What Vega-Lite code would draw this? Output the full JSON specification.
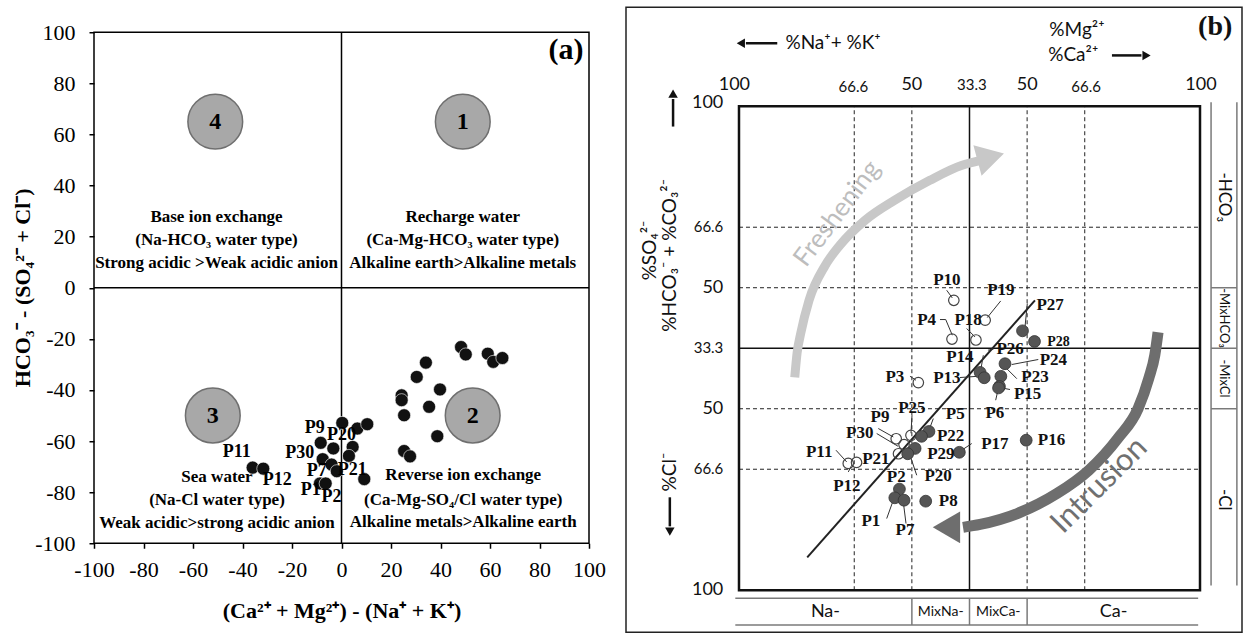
{
  "$schema": "https://vega.github.io/schema/vega-lite/v6.json",
  "padding": {"left": 11, "top": 6.25, "right": 0, "bottom": 0},
  "config": {"view": {"stroke": null}},
  "spacing": 37,
  "bounds": "flush",
  "hconcat": [
    {
      "width": 495,
      "height": 536,
      "encoding": {
        "x": {"field": "x", "type": "quantitative", "scale": {"domain": [-100, 100], "nice": false, "zero": false},
          "axis": {"values": [-100, -80, -60, -40, -20, 0, 20, 40, 60, 80, 100], "title": "(Ca²⁺ + Mg²⁺) - (Na⁺ + K⁺)", "grid": false, "domain": false,
            "tickColor": "black", "tickSize": 5, "tickWidth": 1.5, "labelFont": "Liberation Serif", "labelFontSize": 22, "labelColor": "black",
            "labelPadding": 11, "labelFlush": false, "labelOverlap": false, "labelExpr": "replace(datum.label, '\u2212', '-')",
            "titleFont": "Liberation Serif", "titleFontSize": 22, "titleFontWeight": "bold", "titleColor": "black", "titleY": 57, "titleBaseline": "top"}},
        "y": {"field": "y", "type": "quantitative", "scale": {"domain": [-100, 109.8], "nice": false, "zero": false},
          "axis": {"values": [-100, -80, -60, -40, -20, 0, 20, 40, 60, 80, 100], "title": "HCO₃⁻ - (SO₄²⁻ + Cl⁻)", "grid": false, "domain": false,
            "tickColor": "black", "tickSize": 5, "tickWidth": 1.5, "labelFont": "Liberation Serif", "labelFontSize": 22, "labelColor": "black",
            "labelPadding": 14, "labelFlush": false, "labelOverlap": false, "labelExpr": "replace(datum.label, '\u2212', '-')",
            "titleFont": "Liberation Serif", "titleFontSize": 22, "titleFontWeight": "bold", "titleColor": "black",
            "titleX": -72, "titleY": 280, "titleBaseline": "middle", "titleAngle": -90}}
      },
      "layer": [
        {"data": {"values": [{"x": -100, "y": -100, "x2": 100, "y2": 100}]},
          "mark": {"type": "rect", "filled": false, "stroke": "black", "strokeWidth": 1.5},
          "encoding": {"x2": {"field": "x2"}, "y2": {"field": "y2"}}},
        {"data": {"values": [{"x": 0, "y": -100, "x2": 0, "y2": 100}, {"x": -100, "y": 0, "x2": 100, "y2": 0}]},
          "mark": {"type": "rule", "color": "black", "strokeWidth": 1.5},
          "encoding": {"x2": {"field": "x2"}, "y2": {"field": "y2"}}},
        {"data": {"values": [{"x": -51, "y": 65, "n": "4"}, {"x": 49, "y": 65, "n": "1"}, {"x": -52, "y": -50, "n": "3"}, {"x": 53, "y": -50, "n": "2"}]},
          "mark": {"type": "point", "shape": "circle", "filled": true, "size": 3000, "fill": "#a8a8a8", "stroke": "#6f6f6f", "strokeWidth": 1.5, "opacity": 1}},
        {"data": {"values": [{"x": -51, "y": 65, "n": "4"}, {"x": 49, "y": 65, "n": "1"}, {"x": -52, "y": -50, "n": "3"}, {"x": 53, "y": -50, "n": "2"}]},
          "mark": {"type": "text", "font": "Liberation Serif", "fontWeight": "bold", "fontSize": 24, "color": "black", "baseline": "middle", "align": "center"},
          "encoding": {"text": {"field": "n"}}},
        {"data": {"values": [
            {"x": -50.5, "y": 27.7, "t": "Base ion exchange"},
            {"x": -50.5, "y": 18.6, "t": "(Na-HCO₃ water type)"},
            {"x": -50.5, "y": 9.5, "t": "Strong acidic >Weak acidic anion"},
            {"x": 49, "y": 27.7, "t": "Recharge water"},
            {"x": 49, "y": 18.6, "t": "(Ca-Mg-HCO₃ water type)"},
            {"x": 49, "y": 9.5, "t": "Alkaline earth>Alkaline metals"},
            {"x": -50.3, "y": -74, "t": "Sea water"},
            {"x": -50.3, "y": -83.2, "t": "(Na-Cl water type)"},
            {"x": -50.3, "y": -92, "t": "Weak acidic>strong acidic anion"},
            {"x": 49.2, "y": -73.4, "t": "Reverse ion exchange"},
            {"x": 49.2, "y": -82.9, "t": "(Ca-Mg-SO₄/Cl water type)"},
            {"x": 49.2, "y": -91.7, "t": "Alkaline metals>Alkaline earth"}
          ]},
          "mark": {"type": "text", "font": "Liberation Serif", "fontWeight": "bold", "fontSize": 17, "color": "black", "baseline": "middle", "align": "center"},
          "encoding": {"text": {"field": "t"}}},
        {"data": {"values": [
            {"x": 0.3, "y": -52.9}, {"x": 6.4, "y": -55.1}, {"x": 10.4, "y": -53.4}, {"x": -8.4, "y": -60.7}, {"x": -3.3, "y": -62.9},
            {"x": 4.5, "y": -62.3}, {"x": 3.0, "y": -65.8}, {"x": -7.6, "y": -67.1}, {"x": -4.0, "y": -69.2}, {"x": -1.9, "y": -71.8},
            {"x": 9.2, "y": -74.9}, {"x": -8.7, "y": -76.6}, {"x": -6.4, "y": -76.6}, {"x": -35.9, "y": -70.4}, {"x": -31.6, "y": -70.8},
            {"x": 48.3, "y": -23.2}, {"x": 50.2, "y": -26.1}, {"x": 59.1, "y": -25.8}, {"x": 61.3, "y": -29.0}, {"x": 65.0, "y": -27.5},
            {"x": 34.1, "y": -29.3}, {"x": 30.4, "y": -34.9}, {"x": 39.8, "y": -39.8}, {"x": 24.3, "y": -42.1}, {"x": 24.3, "y": -44.0},
            {"x": 35.4, "y": -46.6}, {"x": 25.3, "y": -49.9}, {"x": 38.7, "y": -58.1}, {"x": 25.3, "y": -63.9}, {"x": 27.7, "y": -66.0}
          ]},
          "mark": {"type": "point", "shape": "circle", "filled": true, "size": 170, "fill": "#111111", "stroke": "#ffffff", "strokeWidth": 0.6, "opacity": 1}},
        {"data": {"values": [
            {"x": -10.8, "y": -54.7, "t": "P9"}, {"x": 0, "y": -57.7, "t": "P20"}, {"x": -42.3, "y": -64.3, "t": "P11"},
            {"x": -16.9, "y": -64.5, "t": "P30"}, {"x": -10.0, "y": -71.7, "t": "P7"}, {"x": 4.3, "y": -71.4, "t": "P21"},
            {"x": -26.0, "y": -75.4, "t": "P12"}, {"x": -12.4, "y": -79.0, "t": "P1"}, {"x": -4.0, "y": -81.9, "t": "P2"}
          ]},
          "mark": {"type": "text", "font": "Liberation Serif", "fontWeight": "bold", "fontSize": 18, "color": "black", "baseline": "middle", "align": "center"},
          "encoding": {"text": {"field": "t"}}},
        {"data": {"values": [{"x": 90.7, "y": 93, "t": "(a)"}]},
          "mark": {"type": "text", "font": "Liberation Serif", "fontWeight": "bold", "fontSize": 30, "color": "black", "baseline": "middle", "align": "center"},
          "encoding": {"text": {"field": "t"}}}
      ]
    },
    {
      "width": 616,
      "height": 625,
      "encoding": {
        "x": {"field": "x", "type": "quantitative", "scale": {"domain": [-24.51, 109.11], "nice": false, "zero": false}, "axis": null},
        "y": {"field": "y", "type": "quantitative", "scale": {"domain": [-8.68, 120.45], "nice": false, "zero": false}, "axis": null}
      },
      "layer": [
        {"data": {"values": [{"x": -24.51, "y": -8.68, "x2": 109.11, "y2": 120.45}]},
          "mark": {"type": "rect", "filled": false, "stroke": "#222222", "strokeWidth": 1.5},
          "encoding": {"x2": {"field": "x2"}, "y2": {"field": "y2"}}},
        {"data": {"values": [
            {"x": 25, "y": 0, "x2": 25, "y2": 100}, {"x": 37.5, "y": 0, "x2": 37.5, "y2": 100},
            {"x": 62.5, "y": 0, "x2": 62.5, "y2": 100}, {"x": 75, "y": 0, "x2": 75, "y2": 100},
            {"x": 0, "y": 25, "x2": 100, "y2": 25}, {"x": 0, "y": 37.5, "x2": 100, "y2": 37.5},
            {"x": 0, "y": 62.5, "x2": 100, "y2": 62.5}, {"x": 0, "y": 75, "x2": 100, "y2": 75}
          ]},
          "mark": {"type": "rule", "color": "#222222", "strokeWidth": 1, "strokeDash": [4, 3]},
          "encoding": {"x2": {"field": "x2"}, "y2": {"field": "y2"}}},
        {"data": {"values": [{"x": 50, "y": 0, "x2": 50, "y2": 100}, {"x": 0, "y": 50, "x2": 100, "y2": 50}]},
          "mark": {"type": "rule", "color": "#111111", "strokeWidth": 1.5},
          "encoding": {"x2": {"field": "x2"}, "y2": {"field": "y2"}}},
        {"data": {"values": [{"x": 0, "y": 0, "x2": 100, "y2": 100}]},
          "mark": {"type": "rect", "filled": false, "stroke": "#111111", "strokeWidth": 2.5},
          "encoding": {"x2": {"field": "x2"}, "y2": {"field": "y2"}}},
        {"data": {"values": [
            {"x": 102.4, "y": 1.0, "x2": 102.4, "y2": 100.8}, {"x": 108.0, "y": 1.0, "x2": 108.0, "y2": 100.8},
            {"x": 102.4, "y": 62.5, "x2": 108.0, "y2": 62.5}, {"x": 102.4, "y": 50, "x2": 108.0, "y2": 50},
            {"x": 102.4, "y": 37.5, "x2": 108.0, "y2": 37.5},
            {"x": -0.8, "y": -1.65, "x2": 99.6, "y2": -1.65}, {"x": -0.8, "y": -7.2, "x2": 99.6, "y2": -7.2},
            {"x": 37.5, "y": -1.65, "x2": 37.5, "y2": -7.2}, {"x": 50, "y": -1.65, "x2": 50, "y2": -7.2},
            {"x": 62.5, "y": -1.65, "x2": 62.5, "y2": -7.2}
          ]},
          "mark": {"type": "rule", "color": "#7a7a7a", "strokeWidth": 1.5},
          "encoding": {"x2": {"field": "x2"}, "y2": {"field": "y2"}}},
        {"data": {"values": [
            {"i": 1, "x": 12.1, "y": 44.0}, {"i": 2, "x": 12.6, "y": 49.0}, {"i": 3, "x": 13.4, "y": 53.1}, {"i": 4, "x": 15.2, "y": 59.9},
            {"i": 5, "x": 18.7, "y": 67.1}, {"i": 6, "x": 21.9, "y": 71.3}, {"i": 7, "x": 27.3, "y": 76.4}, {"i": 8, "x": 33.8, "y": 80.6},
            {"i": 9, "x": 41.4, "y": 84.7}, {"i": 10, "x": 48.4, "y": 87.8}, {"i": 11, "x": 52.0, "y": 88.7}
          ]},
          "mark": {"type": "line", "color": "#c8c8c8", "strokeWidth": 9, "strokeCap": "butt", "interpolate": "monotone"},
          "encoding": {"order": {"field": "i", "type": "quantitative"}}},
        {"data": {"values": [{"x": 54.6, "y": 89.5}]},
          "mark": {"type": "point", "shape": "triangle-right", "filled": true, "size": 1000, "fill": "#c8c8c8", "angle": -15, "opacity": 1, "strokeWidth": 0}},
        {"data": {"values": [
            {"i": 1, "x": 90.9, "y": 53.3}, {"i": 2, "x": 90.2, "y": 48.6}, {"i": 3, "x": 88.9, "y": 43.8}, {"i": 4, "x": 86.6, "y": 37.6},
            {"i": 5, "x": 82.2, "y": 31.4}, {"i": 6, "x": 75.9, "y": 24.8}, {"i": 7, "x": 69.0, "y": 20.0}, {"i": 8, "x": 60.5, "y": 15.9},
            {"i": 9, "x": 52.3, "y": 13.6}, {"i": 10, "x": 48.6, "y": 13.0}
          ]},
          "mark": {"type": "line", "color": "#6e6e6e", "strokeWidth": 11, "strokeCap": "butt", "interpolate": "monotone"},
          "encoding": {"order": {"field": "i", "type": "quantitative"}}},
        {"data": {"values": [{"x": 45.0, "y": 13.0}]},
          "mark": {"type": "point", "shape": "triangle-left", "filled": true, "size": 1000, "fill": "#6e6e6e", "angle": 0, "opacity": 1, "strokeWidth": 0}},
        {"data": {"values": [{"x": 21.3, "y": 77.8, "t": "Freshening"}]},
          "mark": {"type": "text", "font": "Lato", "fontSize": 26, "color": "#bdbdbd", "angle": -53, "align": "center", "baseline": "middle"},
          "encoding": {"text": {"field": "t"}}},
        {"data": {"values": [{"x": 78.2, "y": 21.6, "t": "Intrusion"}]},
          "mark": {"type": "text", "font": "Lato", "fontSize": 31, "color": "#707070", "angle": -45, "align": "center", "baseline": "middle"},
          "encoding": {"text": {"field": "t"}}},
        {"data": {"values": [{"x": 14.8, "y": 6.8, "x2": 64.2, "y2": 59.9}]},
          "mark": {"type": "rule", "color": "#222222", "strokeWidth": 2},
          "encoding": {"x2": {"field": "x2"}, "y2": {"field": "y2"}}},
        {"data": {"values": [
            {"x": 45.05, "y": 61.98, "x2": 46.27, "y2": 60.39}, {"x": 56.77, "y": 59.77, "x2": 53.86, "y2": 56.34},
            {"x": 62.54, "y": 59.24, "x2": 62.04, "y2": 54.4}, {"x": 43.6, "y": 55.93, "x2": 44.84, "y2": 55.93},
            {"x": 44.84, "y": 55.93, "x2": 46.27, "y2": 52.69}, {"x": 49.39, "y": 54.07, "x2": 51.19, "y2": 52.34},
            {"x": 53.0, "y": 48.55, "x2": 52.43, "y2": 45.45}, {"x": 59.15, "y": 46.63, "x2": 64.92, "y2": 47.67},
            {"x": 47.94, "y": 43.95, "x2": 51.91, "y2": 44.21}, {"x": 57.7, "y": 46.14, "x2": 60.24, "y2": 43.74},
            {"x": 57.7, "y": 41.67, "x2": 58.79, "y2": 41.47}, {"x": 56.25, "y": 41.67, "x2": 55.68, "y2": 39.26},
            {"x": 37.09, "y": 44.21, "x2": 38.39, "y2": 43.39}, {"x": 37.53, "y": 36.16, "x2": 37.31, "y2": 32.44},
            {"x": 42.15, "y": 35.47, "x2": 41.21, "y2": 33.06}, {"x": 30.22, "y": 33.41, "x2": 33.47, "y2": 31.67},
            {"x": 29.87, "y": 32.38, "x2": 34.49, "y2": 29.75}, {"x": 50.48, "y": 30.31, "x2": 48.31, "y2": 28.93},
            {"x": 21.04, "y": 28.93, "x2": 23.36, "y2": 26.51}, {"x": 24.45, "y": 25.83, "x2": 23.71, "y2": 24.44},
            {"x": 38.55, "y": 23.76, "x2": 37.09, "y2": 27.89}, {"x": 39.26, "y": 28.93, "x2": 38.4, "y2": 29.3},
            {"x": 32.04, "y": 14.81, "x2": 33.47, "y2": 18.6}, {"x": 36.23, "y": 13.78, "x2": 35.64, "y2": 18.24},
            {"x": 55.2, "y": 49.8, "x2": 54.0, "y2": 49.6}
          ]},
          "mark": {"type": "rule", "color": "#333333", "strokeWidth": 1},
          "encoding": {"x2": {"field": "x2"}, "y2": {"field": "y2"}}},
        {"data": {"values": [
            {"id": "P10", "x": 46.6, "y": 59.9}, {"id": "P19", "x": 53.4, "y": 55.8}, {"id": "P4", "x": 46.2, "y": 51.9},
            {"id": "P18", "x": 51.4, "y": 51.7}, {"id": "P3", "x": 38.9, "y": 42.9}, {"id": "P9", "x": 34.1, "y": 31.3},
            {"id": "P25", "x": 37.3, "y": 32.0}, {"id": "P30", "x": 35.8, "y": 30.1}, {"id": "P21", "x": 34.6, "y": 28.2},
            {"id": "P11", "x": 23.7, "y": 26.2}, {"id": "P12", "x": 25.5, "y": 26.4}
          ]},
          "mark": {"type": "point", "shape": "circle", "filled": false, "size": 110, "stroke": "#444444", "strokeWidth": 1.2, "opacity": 1}},
        {"data": {"values": [
            {"id": "P27", "x": 61.5, "y": 53.6}, {"id": "P28", "x": 64.1, "y": 51.4}, {"id": "P24", "x": 57.7, "y": 46.8},
            {"id": "P14", "x": 52.3, "y": 45.0}, {"id": "P13", "x": 53.2, "y": 43.9}, {"id": "P23", "x": 56.8, "y": 44.2},
            {"id": "P15", "x": 56.5, "y": 42.1}, {"id": "P6", "x": 56.3, "y": 41.8}, {"id": "P5", "x": 41.2, "y": 32.8},
            {"id": "P22", "x": 39.6, "y": 31.8}, {"id": "P29", "x": 38.2, "y": 29.3}, {"id": "P20", "x": 36.6, "y": 28.2},
            {"id": "P17", "x": 47.8, "y": 28.5}, {"id": "P16", "x": 62.3, "y": 31.0}, {"id": "P2", "x": 34.8, "y": 20.9},
            {"id": "P1", "x": 33.8, "y": 19.1}, {"id": "P7", "x": 35.8, "y": 18.6}, {"id": "P8", "x": 40.5, "y": 18.4}
          ]},
          "mark": {"type": "point", "shape": "circle", "filled": true, "size": 140, "fill": "#555555", "stroke": "#333333", "strokeWidth": 0.8, "opacity": 1}},
        {"data": {"values": [
            {"x": 45.1, "y": 64.2, "t": "P10"}, {"x": 56.8, "y": 62.0, "t": "P19"}, {"x": 67.5, "y": 58.9, "t": "P27"},
            {"x": 40.7, "y": 55.8, "t": "P4"}, {"x": 49.7, "y": 55.8, "t": "P18"}, {"x": 58.8, "y": 49.8, "t": "P26"},
            {"x": 47.9, "y": 48.2, "t": "P14"}, {"x": 68.2, "y": 47.5, "t": "P24"}, {"x": 33.8, "y": 44.1, "t": "P3"},
            {"x": 45.1, "y": 43.9, "t": "P13"}, {"x": 64.2, "y": 44.1, "t": "P23"}, {"x": 62.6, "y": 40.6, "t": "P15"},
            {"x": 37.5, "y": 37.7, "t": "P25"}, {"x": 46.9, "y": 36.5, "t": "P5"}, {"x": 55.5, "y": 36.6, "t": "P6"},
            {"x": 30.6, "y": 35.8, "t": "P9"}, {"x": 26.2, "y": 32.4, "t": "P30"}, {"x": 45.9, "y": 31.8, "t": "P22"},
            {"x": 55.5, "y": 30.3, "t": "P17"}, {"x": 67.8, "y": 31.0, "t": "P16"}, {"x": 17.4, "y": 28.6, "t": "P11"},
            {"x": 29.7, "y": 27.2, "t": "P21"}, {"x": 43.8, "y": 28.1, "t": "P29"}, {"x": 43.2, "y": 23.6, "t": "P20"},
            {"x": 34.1, "y": 23.3, "t": "P2"}, {"x": 23.4, "y": 21.5, "t": "P12"}, {"x": 45.4, "y": 18.5, "t": "P8"},
            {"x": 28.6, "y": 14.3, "t": "P1"}, {"x": 36.0, "y": 12.4, "t": "P7"}
          ]},
          "mark": {"type": "text", "font": "Liberation Serif", "fontWeight": "bold", "fontSize": 17, "color": "#111111", "baseline": "middle", "align": "center"},
          "encoding": {"text": {"field": "t"}}},
        {"data": {"values": [{"x": 69.3, "y": 51.3, "t": "P28"}]},
          "mark": {"type": "text", "font": "Liberation Serif", "fontWeight": "bold", "fontSize": 14, "color": "#111111", "baseline": "middle", "align": "center"},
          "encoding": {"text": {"field": "t"}}},
        {"data": {"values": [
            {"x": -1.0, "y": 104.3, "t": "100"}, {"x": 37.5, "y": 104.3, "t": "50"}, {"x": 62.5, "y": 104.3, "t": "50"}, {"x": 100.2, "y": 104.3, "t": "100"}
          ]},
          "mark": {"type": "text", "font": "Lato", "fontSize": 18, "color": "#111111", "baseline": "middle", "align": "center"},
          "encoding": {"text": {"field": "t"}}},
        {"data": {"values": [
            {"x": 24.8, "y": 104.0, "t": "66.6"}, {"x": 50.5, "y": 104.3, "t": "33.3"}, {"x": 75.3, "y": 104.0, "t": "66.6"}
          ]},
          "mark": {"type": "text", "font": "Lato", "fontSize": 15, "color": "#111111", "baseline": "middle", "align": "center"},
          "encoding": {"text": {"field": "t"}}},
        {"data": {"values": [
            {"x": -3.4, "y": 100.6, "t": "100"}, {"x": -3.4, "y": 62.5, "t": "50"}, {"x": -3.4, "y": 37.5, "t": "50"}, {"x": -3.4, "y": 0, "t": "100"}
          ]},
          "mark": {"type": "text", "font": "Lato", "fontSize": 18, "color": "#111111", "baseline": "middle", "align": "right"},
          "encoding": {"text": {"field": "t"}}},
        {"data": {"values": [
            {"x": -3.4, "y": 75, "t": "66.6"}, {"x": -3.4, "y": 50, "t": "33.3"}, {"x": -3.4, "y": 25, "t": "66.6"}
          ]},
          "mark": {"type": "text", "font": "Lato", "fontSize": 15, "color": "#111111", "baseline": "middle", "align": "right"},
          "encoding": {"text": {"field": "t"}}},
        {"data": {"values": [{"x": 105.2, "y": 81.2, "t": "-HCO₃"}, {"x": 105.2, "y": 18.7, "t": "-Cl"}]},
          "mark": {"type": "text", "font": "Lato", "fontSize": 17, "color": "#111111", "baseline": "middle", "align": "center", "angle": 90},
          "encoding": {"text": {"field": "t"}}},
        {"data": {"values": [{"x": 105.2, "y": 56.25, "t": "-MixHCO₃"}, {"x": 105.2, "y": 43.75, "t": "-MixCl"}]},
          "mark": {"type": "text", "font": "Lato", "fontSize": 13, "color": "#111111", "baseline": "middle", "align": "center", "angle": 90},
          "encoding": {"text": {"field": "t"}}},
        {"data": {"values": [{"x": 18.75, "y": -4.5, "t": "Na-"}, {"x": 81.25, "y": -4.5, "t": "Ca-"}]},
          "mark": {"type": "text", "font": "Lato", "fontSize": 18, "color": "#111111", "baseline": "middle", "align": "center"},
          "encoding": {"text": {"field": "t"}}},
        {"data": {"values": [{"x": 43.75, "y": -4.5, "t": "MixNa-"}, {"x": 56.25, "y": -4.5, "t": "MixCa-"}]},
          "mark": {"type": "text", "font": "Lato", "fontSize": 14, "color": "#111111", "baseline": "middle", "align": "center"},
          "encoding": {"text": {"field": "t"}}},
        {"data": {"values": [
            {"x": 20.4, "y": 113.0, "t": "%Na⁺+ %K⁺"}, {"x": 73.3, "y": 115.7, "t": "%Mg²⁺"}, {"x": 72.5, "y": 110.5, "t": "%Ca²⁺"}
          ]},
          "mark": {"type": "text", "font": "Lato", "fontSize": 19, "color": "#111111", "baseline": "middle", "align": "center"},
          "encoding": {"text": {"field": "t"}}},
        {"data": {"values": [{"x": -19.3, "y": 70.2, "t": "%SO₄²⁻"}, {"x": -15.0, "y": 69.2, "t": "%HCO₃⁻ + %CO₃²⁻"}, {"x": -15.0, "y": 24.4, "t": "%Cl⁻"}]},
          "mark": {"type": "text", "font": "Lato", "fontSize": 19, "color": "#111111", "baseline": "middle", "align": "center", "angle": -90},
          "encoding": {"text": {"field": "t"}}},
        {"data": {"values": [
            {"x": 1.5, "y": 113.0, "x2": 8.3, "y2": 113.0}, {"x": 80.9, "y": 110.5, "x2": 87.3, "y2": 110.5},
            {"x": -14.3, "y": 95.8, "x2": -14.3, "y2": 101.5}, {"x": -15.0, "y": 19.2, "x2": -15.0, "y2": 13.2}
          ]},
          "mark": {"type": "rule", "color": "#111111", "strokeWidth": 2.5},
          "encoding": {"x2": {"field": "x2"}, "y2": {"field": "y2"}}},
        {"data": {"values": [{"x": 0.4, "y": 113.0}]},
          "mark": {"type": "point", "shape": "triangle-left", "filled": true, "size": 90, "fill": "#111111", "opacity": 1, "strokeWidth": 0}},
        {"data": {"values": [{"x": 88.4, "y": 110.5}]},
          "mark": {"type": "point", "shape": "triangle-right", "filled": true, "size": 90, "fill": "#111111", "opacity": 1, "strokeWidth": 0}},
        {"data": {"values": [{"x": -14.3, "y": 102.6}]},
          "mark": {"type": "point", "shape": "triangle-up", "filled": true, "size": 90, "fill": "#111111", "opacity": 1, "strokeWidth": 0}},
        {"data": {"values": [{"x": -15.0, "y": 12.1}]},
          "mark": {"type": "point", "shape": "triangle-down", "filled": true, "size": 90, "fill": "#111111", "opacity": 1, "strokeWidth": 0}},
        {"data": {"values": [{"x": 103.3, "y": 116.3, "t": "(b)"}]},
          "mark": {"type": "text", "font": "Liberation Serif", "fontWeight": "bold", "fontSize": 28, "color": "#111111", "baseline": "middle", "align": "center"},
          "encoding": {"text": {"field": "t"}}}
      ]
    }
  ]
}
